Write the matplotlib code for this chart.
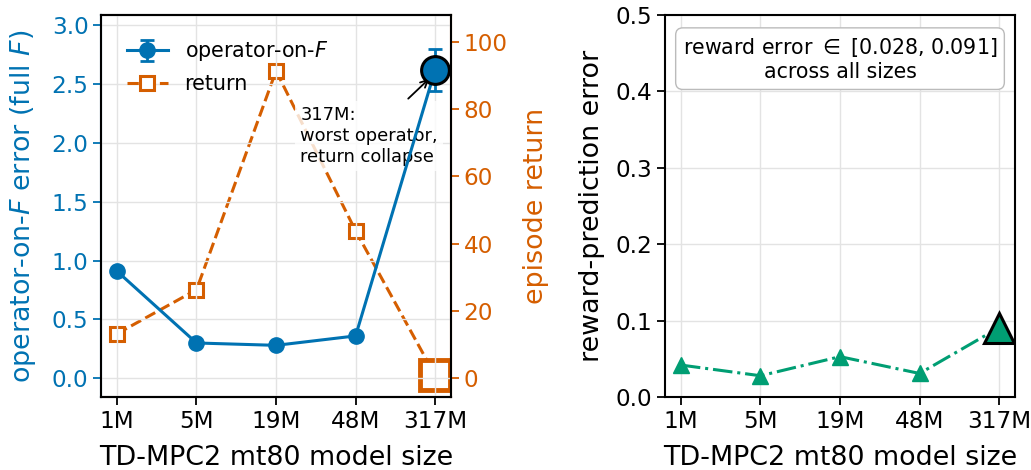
import matplotlib
matplotlib.use("Agg")
import matplotlib.pyplot as plt
import numpy as np

sizes = ["1M", "5M", "19M", "48M", "317M"]
op_err = [0.91, 0.30, 0.28, 0.36, 2.62]
op_err_sd = [0.0, 0.0, 0.0, 0.0, 0.18]
ep_return = [13.2, 26.3, 91.4, 43.8, 0.8]
rew_err = [0.042, 0.028, 0.053, 0.031, 0.091]

BLUE = "#0072B2"
ORANGE = "#D55E00"
GREEN = "#009E73"

plt.rcParams["font.size"] = 16.7
plt.rcParams["axes.linewidth"] = 1.5
for a in ("xtick", "ytick"):
    plt.rcParams[a + ".major.size"] = 5.5
    plt.rcParams[a + ".major.width"] = 1.3
LABEL_FS = 19.4

fig = plt.figure(figsize=(10.31, 4.70), dpi=100)
ax = fig.add_axes([0.098, 0.155, 0.3395, 0.813])
ax2 = ax.twinx()
axr = fig.add_axes([0.645, 0.155, 0.3395, 0.813])

x = np.arange(len(sizes))

# left panel: operator error + return
h1 = ax.errorbar(x, op_err, yerr=op_err_sd, color=BLUE, marker="o", ms=11,
                 lw=2.2, capsize=5, capthick=2, elinewidth=2,
                 label="operator-on-$F$", zorder=3)
ax.plot(x[-1], op_err[-1], "o", ms=20, color=BLUE, mec="black", mew=2.2, zorder=5)
h2, = ax2.plot(x, ep_return, color=ORANGE, ls="--", lw=2.2, marker="s", ms=10.5,
               mfc="white", mec=ORANGE, mew=2.2, label="return")
ax2.plot(x[-1], ep_return[-1], "s", ms=21, mfc="white", mec=ORANGE, mew=3.5)

ax.set_ylim(-0.16, 3.085)
ax2.set_ylim(-5.65, 108)
ax.set_xticks(x)
ax.set_xticklabels(sizes)
ax.set_xlabel("TD-MPC2 mt80 model size", fontsize=LABEL_FS, labelpad=9)
ax.set_ylabel("operator-on-$F$ error (full $F$)", color=BLUE, fontsize=LABEL_FS,
              labelpad=10)
ax2.set_ylabel("episode return", color=ORANGE, fontsize=LABEL_FS, labelpad=11)
ax.tick_params(axis="y", colors=BLUE)
ax2.tick_params(axis="y", colors=ORANGE)
ax2.spines["left"].set_color(BLUE)
ax2.spines["right"].set_color(ORANGE)
ax.grid(True, color="#e3e3e3", lw=1.0)
ax.set_zorder(ax2.get_zorder() + 1)
ax.patch.set_visible(False)

ax.legend([h1, h2], ["operator-on-$F$", "return"], loc="upper left",
          frameon=False, fontsize=14.9, bbox_to_anchor=(0.02, 0.985))
ax.annotate("317M:\nworst operator,\nreturn collapse",
            xy=(3.95, 2.56), xytext=(3.17, 2.06),
            fontsize=12.9, ha="center", va="center", multialignment="left",
            bbox=dict(boxstyle="square,pad=0.3", fc="white", ec="none", alpha=0.8),
            arrowprops=dict(arrowstyle="->", color="black", lw=1.3))

# right panel: reward error
axr.plot(x, rew_err, color=GREEN, ls="-.", lw=2.2, marker="^", ms=11)
axr.plot(x[-1], rew_err[-1], "^", ms=22, color=GREEN, mec="black", mew=2.2)
axr.set_ylim(0, 0.5)
axr.set_xticks(x)
axr.set_xticklabels(sizes)
axr.set_xlabel("TD-MPC2 mt80 model size", fontsize=LABEL_FS, labelpad=9)
axr.set_ylabel("reward-prediction error", fontsize=LABEL_FS, labelpad=8)
axr.grid(True, color="#e3e3e3", lw=1.0)
axr.text(0.5, 0.945, "reward error $\\in$ [0.028, 0.091]\nacross all sizes",
         transform=axr.transAxes, ha="center", va="top", fontsize=14.8,
         bbox=dict(boxstyle="round,pad=0.35", fc="white", ec="#bbbbbb"))

fig.savefig("out.png", dpi=100)
